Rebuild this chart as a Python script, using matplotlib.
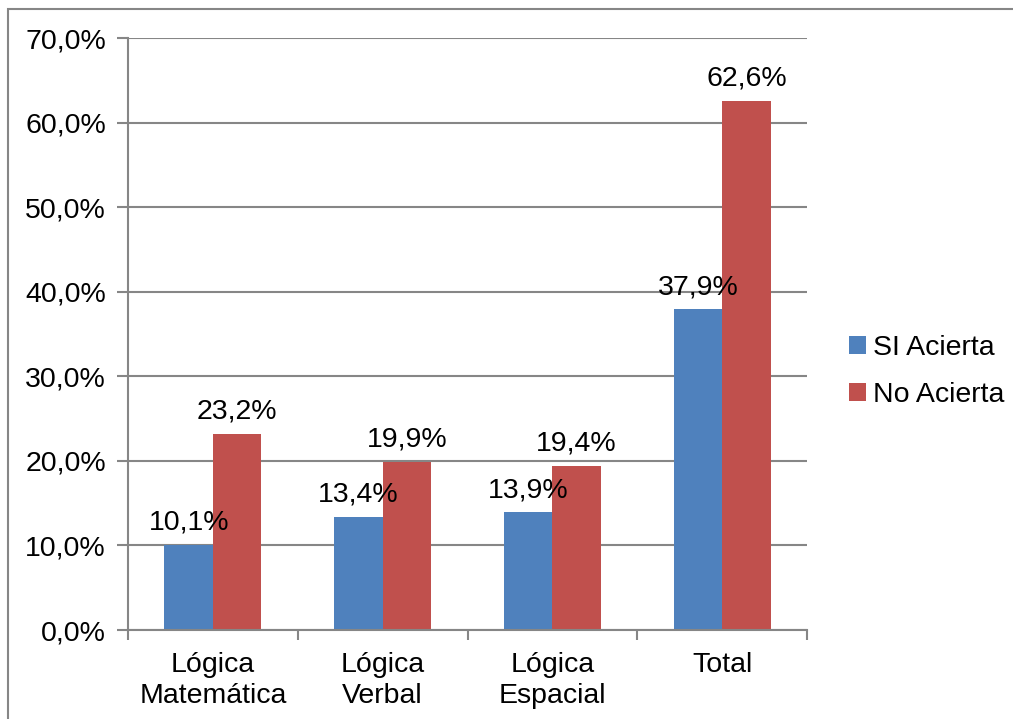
import matplotlib.pyplot as plt
import numpy as np
from matplotlib.patches import Rectangle

plt.rcParams['font.family'] = ['Liberation Sans', 'DejaVu Sans']

categorias = ['Lógica\nMatemática', 'Lógica\nVerbal', 'Lógica\nEspacial', 'Total']
si_acierta = [10.1, 13.4, 13.9, 37.9]
no_acierta = [23.2, 19.9, 19.4, 62.6]

azul = '#4F81BD'
rojo = '#C0504D'
gris = '#868686'
fs = 20.5

fig = plt.figure(figsize=(10.13, 7.19), dpi=100)
ax = fig.add_axes([128 / 1013, 1 - 630 / 719, (807 - 128) / 1013, (630 - 38) / 719])

# marco exterior del grafico
fig.patches.append(Rectangle((8 / 1013, -0.05), 1.1, 1 - 9 / 719 + 0.05,
                             transform=fig.transFigure, fill=False,
                             edgecolor=gris, linewidth=1.5))

x = np.arange(len(categorias))
w = 0.285
b1 = ax.bar(x - w / 2, si_acierta, w, color=azul, label='SI Acierta', zorder=2)
b2 = ax.bar(x + w / 2, no_acierta, w, color=rojo, label='No Acierta', zorder=2)

for bars, vals in ((b1, si_acierta), (b2, no_acierta)):
    for r, v in zip(bars, vals):
        ax.annotate(f'{v:.1f}%'.replace('.', ','),
                    (r.get_x() + r.get_width() / 2, v),
                    xytext=(0, 11), textcoords='offset points',
                    ha='center', va='baseline', fontsize=fs, zorder=3)

ax.set_xlim(-0.5, len(categorias) - 0.5)
ax.set_ylim(0, 70)
ax.set_yticks(np.arange(0, 71, 10))
ax.set_yticklabels([f'{t:.1f}%'.replace('.', ',') for t in np.arange(0, 71, 10)])
ax.yaxis.grid(True, color=gris, linewidth=1.5, zorder=0)
ax.set_axisbelow(True)

ax.set_xticks(x)
ax.set_xticklabels(categorias, fontsize=fs, linespacing=1.25)
ax.set_xticks(np.arange(-0.5, len(categorias)), minor=True)
ax.tick_params(axis='x', which='major', length=0, pad=16)
ax.tick_params(axis='x', which='minor', length=7, color=gris, width=1.5)
ax.tick_params(axis='y', length=8, color=gris, width=1.5, labelsize=fs, pad=8)

for s in ('top', 'right'):
    ax.spines[s].set_visible(False)
for s in ('left', 'bottom'):
    ax.spines[s].set_color(gris)
    ax.spines[s].set_linewidth(1.5)

ax.legend(loc='center left', bbox_to_anchor=(1.032, 0.437), frameon=False,
          fontsize=fs, handlelength=0.6, handleheight=0.6, handletextpad=0.25,
          labelspacing=0.75, borderpad=0.2)

fig.savefig('out.png', dpi=100)
